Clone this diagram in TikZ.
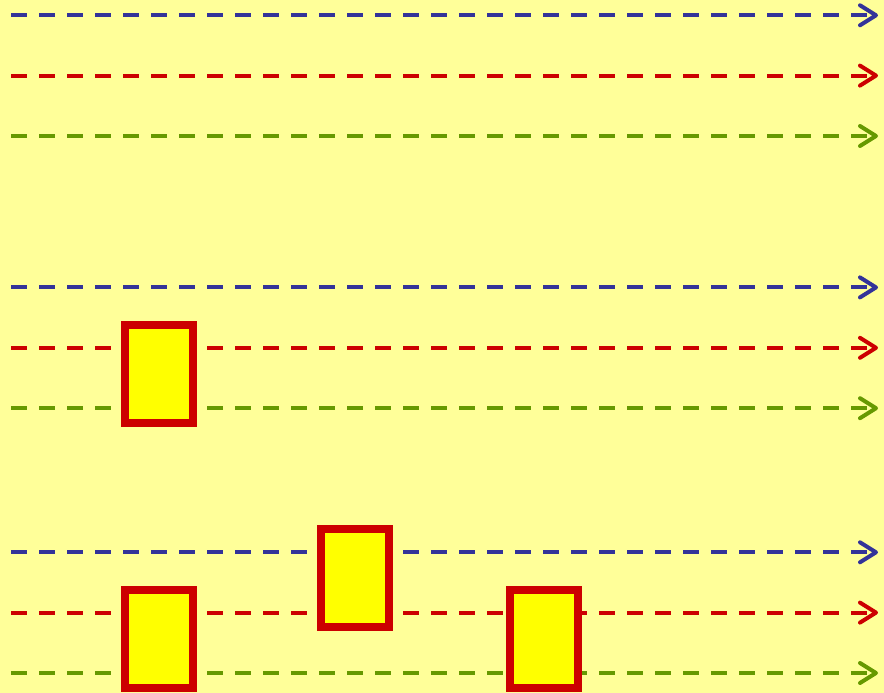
\documentclass[tikz,border=0pt]{standalone}
\usetikzlibrary{arrows.meta}
\definecolor{bg}{HTML}{FFFF99}
\definecolor{lblue}{HTML}{333399}
\definecolor{lred}{HTML}{CC0000}
\definecolor{lgreen}{HTML}{669900}
\definecolor{boxfill}{HTML}{FFFF00}
\tikzset{
  track/.style={line width=4pt, dash pattern=on 16pt off 12pt,
    -{Straight Barb[length=16pt, width=20pt, line cap=round, line join=round]}},
  slot/.style={draw=lred, line width=8pt, fill=boxfill, minimum width=68pt,
    minimum height=98pt, inner sep=0pt, outer sep=0pt}
}
\begin{document}
\begin{tikzpicture}[x=1pt,y=-1pt]
\fill[bg] (0,0) rectangle (884,693);
\useasboundingbox (0,0) rectangle (884,693);
\foreach \yy/\cc/\nn in {15.3/lblue/a1,75.6/lred/a2,136/lgreen/a3,
                          287.4/lblue/b1,347.8/lred/b2,408.2/lgreen/b3,
                          552.3/lblue/c1,612.6/lred/c2,673/lgreen/c3}{
  \coordinate (\nn s) at (11,\yy);
  \coordinate (\nn e) at (878,\yy);
  \draw[track, draw=\cc] (\nn s) -- (\nn e);
}
\node[slot] (box1) at (159,374.3) {};
\node[slot] (box2) at (355,578.3) {};
\node[slot] (box3) at (159,639) {};
\node[slot] (box4) at (544,639) {};
\end{tikzpicture}
\end{document}
